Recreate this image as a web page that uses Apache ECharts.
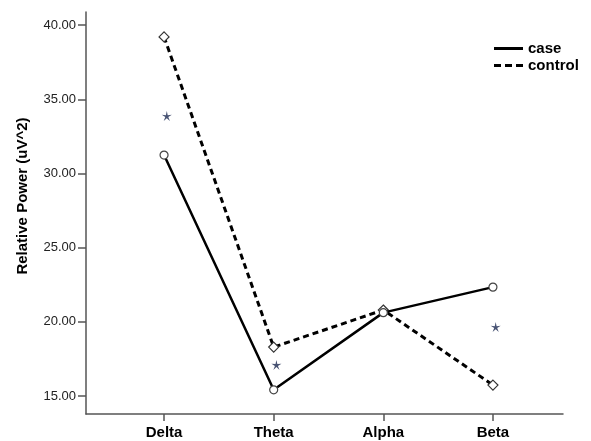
<!DOCTYPE html>
<html><head><meta charset="utf-8">
<script src="https://cdn.jsdelivr.net/npm/echarts@6/dist/echarts.min.js"></script>
<style>html,body{margin:0;padding:0;background:#fff}#c{width:591px;height:441px}</style>
</head><body><div id="c"></div>
<script>
var categories = ['Delta', 'Theta', 'Alpha', 'Beta'];
var caseValues = [31.24, 15.42, 20.62, 22.34];
var controlValues = [39.2, 18.3, 20.8, 15.74];
var sigValues = [33.87, 17.1, null, 19.65];
var yTicks = [15, 20, 25, 30, 35, 40];

var chart = echarts.init(document.getElementById('c'));
var font = '"Liberation Sans", Arial, sans-serif';
function pairs(arr, dx) {
  var out = [];
  arr.forEach(function (v, i) { if (v !== null) out.push([i + (dx || 0), v]); });
  return out;
}
var starPath = 'path://M50,0 L58.82,37.86 L97.55,34.55 L64.27,54.64 L79.39,90.45 L50,65 L20.61,90.45 L35.73,54.64 L2.45,34.55 L41.18,37.86 Z';
chart.setOption({
  animation: false,
  backgroundColor: '#fff',
  grid: { left: 86, right: 28, top: 12, bottom: 27 },
  legend: {
    orient: 'vertical', left: 489, top: 36, itemGap: 2,
    itemWidth: 29, itemHeight: 3,
    itemStyle: { borderWidth: 0 },
    textStyle: { fontFamily: font, fontWeight: 'bold', fontSize: 15, color: '#000' },
    data: [
      { name: 'case', icon: 'rect', itemStyle: { color: '#000', borderWidth: 0 } },
      { name: 'control', icon: 'path://M0,0h7v3h-7z M11,0h7v3h-7z M22,0h7v3h-7z', itemStyle: { color: '#000', borderWidth: 0 } }
    ]
  },
  xAxis: {
    type: 'value', min: -0.712, max: 3.639,
    splitLine: { show: false },
    axisLine: { show: true, onZero: false, lineStyle: { color: '#555', width: 1.5 } },
    axisTick: { show: true, inside: false, length: 7, customValues: [0, 1, 2, 3], lineStyle: { color: '#555', width: 1.5 } },
    axisLabel: {
      customValues: [0, 1, 2, 3], margin: 11,
      formatter: function (v) { return categories[Math.round(v)]; },
      fontFamily: font, fontWeight: 'bold', fontSize: 15, color: '#000'
    }
  },
  yAxis: {
    type: 'value', min: 13.79, max: 40.88,
    splitLine: { show: false },
    axisLine: { show: true, onZero: false, lineStyle: { color: '#555', width: 1.5 } },
    axisTick: { show: true, length: 8, customValues: yTicks, lineStyle: { color: '#555', width: 1.5 } },
    axisLabel: {
      customValues: yTicks, margin: 10,
      formatter: function (v) { return v.toFixed(2); },
      fontFamily: font, fontSize: 13, color: '#222'
    }
  },
  graphic: [{
    type: 'text', x: 23, y: 196, rotation: Math.PI / 2,
    style: { text: 'Relative Power (uV^2)', fontFamily: font, fontWeight: 'bold', fontSize: 15, fill: '#000', align: 'center', verticalAlign: 'middle' }
  }],
  series: [
    {
      name: 'control', type: 'line', data: pairs(controlValues), z: 3,
      symbol: 'diamond', symbolSize: 10, showSymbol: true,
      lineStyle: { color: '#000', width: 3, type: [6, 4] },
      itemStyle: { color: '#fff', borderColor: '#333', borderWidth: 1.2 }
    },
    {
      name: 'case', type: 'line', data: pairs(caseValues), z: 4,
      symbol: 'circle', symbolSize: 8, showSymbol: true,
      lineStyle: { color: '#000', width: 2.5 },
      itemStyle: { color: '#fff', borderColor: '#444', borderWidth: 1.2 }
    },
    {
      name: 'sig', type: 'scatter', data: pairs(sigValues, 0.025), z: 5,
      symbol: starPath, symbolSize: 10,
      itemStyle: { color: '#1a2850' }
    }
  ]
});
</script></body></html>
